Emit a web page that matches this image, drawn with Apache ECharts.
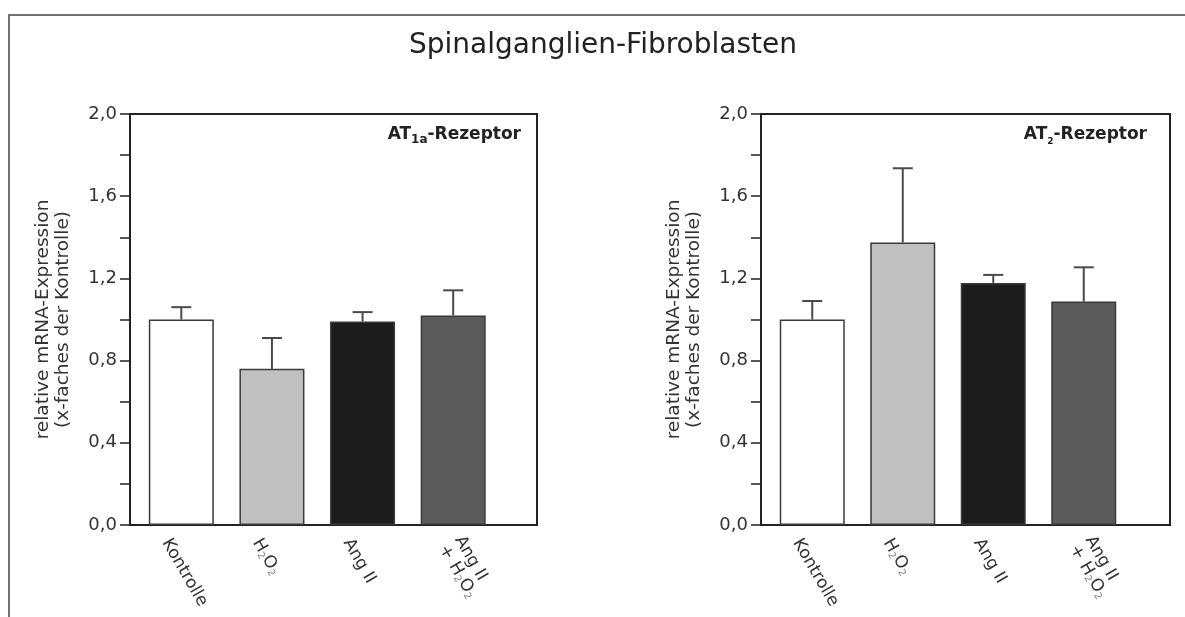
<!DOCTYPE html>
<html>
<head>
<meta charset="utf-8">
<script src="https://cdn.jsdelivr.net/npm/echarts@6/dist/echarts.min.js"></script>
<style>
html,body{margin:0;padding:0;background:#fff;}
#chart{width:1185px;height:617px;}
</style>
</head>
<body>
<div id="chart"></div>
<script>
// ---- data ----
const categories = ['Kontrolle', 'H₂O₂', 'Ang II', 'Ang II\n+ H₂O₂'];
const at1aMean = [1.00, 0.76, 0.99, 1.02];
const at1aErr  = [0.06, 0.15, 0.046, 0.122];
const at2Mean  = [1.00, 1.375, 1.178, 1.087];
const at2Err   = [0.09, 0.361, 0.039, 0.167];
const yMin = 0, yMax = 2.0, yStep = 0.4;
const mainTitle = 'Spinalganglien-Fibroblasten';
const yName = 'relative mRNA-Expression\n(x-faches der Kontrolle)';

// ---- styles ----
const FONT = '"DejaVu Sans", Verdana, sans-serif';
const barColors = ['#ffffff', '#c0c0c0', '#1c1c1c', '#5b5b5b'];
const TXT = '#333';

function fmtY(v) { return v.toFixed(1).replace('.', ','); }
function fmtCat(v) { return v.replace(/₂/g, '{s|2}'); }

function frameGrid(left, width) {
  return { left: left, top: 114, width: width, height: 411, show: true,
           borderColor: '#222', borderWidth: 2, backgroundColor: 'transparent',
           containLabel: false, outerBoundsMode: 'none' };
}
function barGrid(left, width) {
  return { left: left, top: 114, width: width, height: 411, containLabel: false, outerBoundsMode: 'none' };
}
function frameYAxis(gi) {
  return {
    type: 'value', gridIndex: gi, min: yMin, max: yMax, interval: yStep,
    axisLine: { show: true, lineStyle: { color: '#222', width: 2 } },
    axisTick: { show: true, inside: false, length: 10, lineStyle: { color: '#222', width: 1.5 } },
    minorTick: { show: true, splitNumber: 2, length: 10, lineStyle: { color: '#222', width: 1.5 } },
    splitLine: { show: false }, minorSplitLine: { show: false },
    axisLabel: { formatter: fmtY, fontSize: 18, color: TXT, margin: 13, fontFamily: FONT },
    name: yName, nameLocation: 'middle', nameGap: 57, nameMoveOverlap: false,
    nameTextStyle: { fontSize: 18.5, color: TXT, lineHeight: 20, fontFamily: FONT }
  };
}
function hiddenValueX(gi) {
  return { type: 'value', gridIndex: gi, show: false, min: 0, max: 1 };
}
function catXAxis(gi) {
  return {
    type: 'category', gridIndex: gi,
    data: categories.map((c, i) => i === categories.length - 1
      ? { value: c, textStyle: { padding: [15, 0, 0, 8] } }
      : c),
    axisLine: { show: false }, axisTick: { show: false },
    axisLabel: {
      interval: 0, rotate: -60, fontSize: 17, color: TXT, fontFamily: FONT,
      margin: 6, align: 'left', verticalAlign: 'top', padding: [9, 0, 0, 0],
      lineHeight: 18, formatter: fmtCat,
      rich: { s: { fontSize: 10, color: '#888', verticalAlign: 'bottom', lineHeight: 6, fontFamily: FONT } }
    }
  };
}
function hiddenY(gi) {
  return { type: 'value', gridIndex: gi, min: yMin, max: yMax, show: false, splitLine: { show: false } };
}
function barSeries(ai, means) {
  return {
    type: 'bar', xAxisIndex: ai, yAxisIndex: ai, barWidth: 65, z: 3,
    data: means.map((v, i) => ({ value: v, itemStyle: { color: barColors[i] } })),
    itemStyle: { borderColor: '#3a3a3a', borderWidth: 1.5 },
    emphasis: { disabled: true }, animation: false
  };
}
function errSeries(ai, means, errs) {
  return {
    type: 'custom', xAxisIndex: ai, yAxisIndex: ai, z: 2, animation: false,
    data: means.map((v, i) => [i, v, v + errs[i]]),
    renderItem: function (params, api) {
      const p0 = api.coord([api.value(0), api.value(1)]);
      const p1 = api.coord([api.value(0), api.value(2)]);
      const st = { stroke: '#4a4a4a', lineWidth: 2 };
      return { type: 'group', children: [
        { type: 'line', shape: { x1: p0[0], y1: p0[1], x2: p1[0], y2: p1[1] }, style: st },
        { type: 'line', shape: { x1: p1[0] - 10, y1: p1[1], x2: p1[0] + 10, y2: p1[1] }, style: st }
      ]};
    }
  };
}

const chart = echarts.init(document.getElementById('chart'), null, { renderer: 'canvas' });
chart.setOption({
  animation: false,
  backgroundColor: '#fff',
  textStyle: { fontFamily: FONT },
  grid: [frameGrid(130, 407), barGrid(136, 362.5), frameGrid(761, 409), barGrid(767, 362)],
  xAxis: [hiddenValueX(0), catXAxis(1), hiddenValueX(2), catXAxis(3)],
  yAxis: [frameYAxis(0), hiddenY(1), frameYAxis(2), hiddenY(3)],
  series: [
    barSeries(1, at1aMean), errSeries(1, at1aMean, at1aErr),
    barSeries(3, at2Mean), errSeries(3, at2Mean, at2Err)
  ],
  graphic: [
    { type: 'polyline', shape: { points: [[9, 617], [9, 15], [1185, 15]] },
      style: { stroke: '#444', lineWidth: 1.5, fill: null }, silent: true },
    { type: 'text', x: 603, y: 46, silent: true,
      style: { text: mainTitle, fontSize: 28, fontFamily: FONT, fill: '#222', align: 'center', verticalAlign: 'middle' } },
    { type: 'text', x: 521, y: 135, silent: true,
      style: { text: '{b|AT}{s|1a}{b|-Rezeptor}', align: 'right', verticalAlign: 'middle',
        rich: { b: { fontSize: 17, fontWeight: 'bold', fill: '#222', fontFamily: FONT, lineHeight: 22, verticalAlign: 'middle' },
                s: { fontSize: 12, fontWeight: 'bold', fill: '#222', fontFamily: FONT, lineHeight: 12, verticalAlign: 'bottom' } } } },
    { type: 'text', x: 1147, y: 135, silent: true,
      style: { text: '{b|AT}{s|2}{b|-Rezeptor}', align: 'right', verticalAlign: 'middle',
        rich: { b: { fontSize: 17, fontWeight: 'bold', fill: '#222', fontFamily: FONT, lineHeight: 22, verticalAlign: 'middle' },
                s: { fontSize: 9, fontWeight: 'bold', fill: '#222', fontFamily: FONT, lineHeight: 12, verticalAlign: 'bottom' } } } }
  ]
});
</script>
</body>
</html>
